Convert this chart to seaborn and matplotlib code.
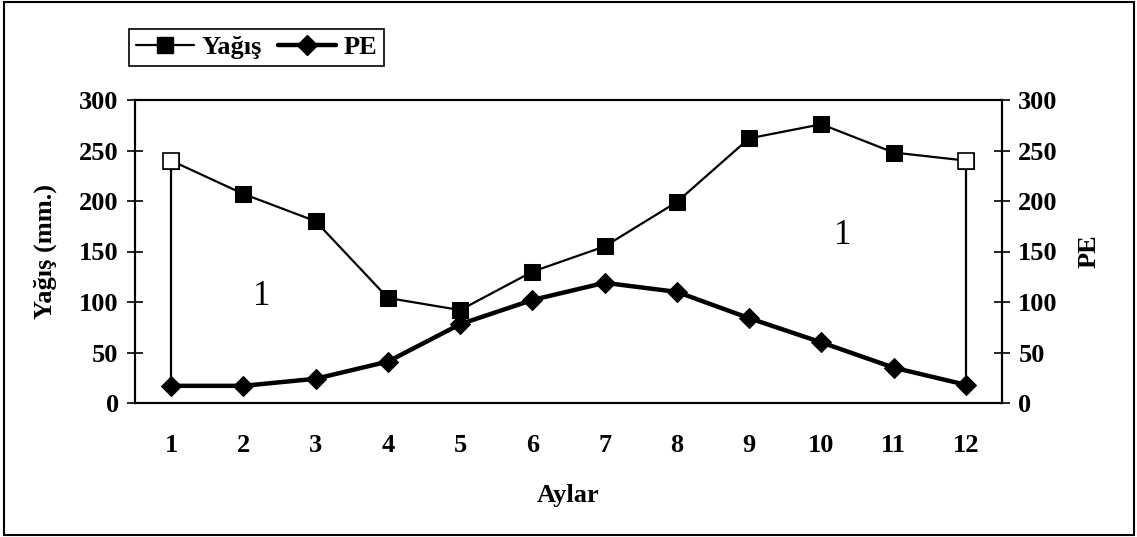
import matplotlib
matplotlib.use("Agg")
import matplotlib.pyplot as plt
from matplotlib.lines import Line2D
from matplotlib.patches import Rectangle
import numpy as np
import pandas as pd
import seaborn as sns

# Monthly precipitation (Yağış) and potential evapotranspiration (PE), mm
months = [1, 2, 3, 4, 5, 6, 7, 8, 9, 10, 11, 12]
yagis = [240, 207, 180, 104, 92, 130, 155, 199, 262, 276, 248, 240]
pe = [17, 17, 24, 41, 78, 102, 119, 110, 84, 60, 35, 18]
y_ticks = [0, 50, 100, 150, 200, 250, 300]
zone_labels = ["1", "1"]
zone_pos = [(2.26, 105), (10.3, 166)]

df = pd.DataFrame({"Aylar": months, "Yağış": yagis, "PE": pe})

sns.set_theme(style="white")
plt.rcParams["font.family"] = ["Liberation Serif", "DejaVu Serif"]
plt.rcParams["text.color"] = "black"
plt.rcParams["axes.labelcolor"] = "black"
plt.rcParams["xtick.color"] = "black"
plt.rcParams["ytick.color"] = "black"

W, H = 1137, 537
fig = plt.figure(figsize=(W / 100, H / 100), dpi=100)
ax = fig.add_axes([135 / W, 1 - 403 / H, (1002 - 135) / W, (403 - 100) / H])
ax2 = ax.twinx()

# Precipitation: thin line with square markers, hollow at both ends
sns.lineplot(data=df, x="Aylar", y="Yağış", ax=ax, color="black", lw=1.6,
             marker="s", markersize=11, markerfacecolor="black",
             markeredgecolor="black", zorder=4)
ax.plot([months[0], months[-1]], [yagis[0], yagis[-1]], ls="none", marker="s",
        markersize=11, markerfacecolor="white", markeredgecolor="black",
        markeredgewidth=1.2, zorder=5)

# Potential evapotranspiration: thick line with diamond markers
sns.lineplot(data=df, x="Aylar", y="PE", ax=ax2, color="black", lw=3.2,
             marker="D", markersize=10, markerfacecolor="black",
             markeredgecolor="black", zorder=4)

# Vertical closures of the surplus zones at the first and last month
for i in (0, -1):
    ax.plot([months[i], months[i]], [yagis[i], pe[i]], color="black", lw=1.6, zorder=3)

for txt, (x, y) in zip(zone_labels, zone_pos):
    ax.text(x, y, txt, fontsize=25, ha="center", va="center", color="black")

for a in (ax, ax2):
    a.set_xlim(0.5, 12.5)
    a.set_ylim(0, 300)
    a.set_yticks(y_ticks)
    a.set_ylabel("")
    for s in a.spines.values():
        s.set_visible(True)
        s.set_color("black")
        s.set_linewidth(1.5)

tick_font = dict(fontsize=19, fontweight="bold", color="black")
ax.set_yticks(y_ticks)
ax.set_yticklabels([str(v) for v in y_ticks], **tick_font)
ax2.set_yticklabels([str(v) for v in y_ticks], **tick_font)
ax.tick_params(axis="y", direction="inout", length=11.5, width=1.2, pad=6, colors="black")
ax2.tick_params(axis="y", direction="inout", length=11.5, width=1.2, pad=6, colors="black")

ax.set_xticks(months)
ax.set_xticklabels([str(m) for m in months], **tick_font)
ax.set_xticks(np.arange(0.5, 13, 1.0), minor=True)
ax.tick_params(axis="x", which="major", length=0, pad=22, colors="black")
ax.tick_params(axis="x", which="minor", direction="inout", length=11.5, width=1.2, colors="black")

ax.set_xlabel("Aylar", fontsize=19, fontweight="bold", labelpad=20, color="black")
ax.set_ylabel("Yağış (mm.)", fontsize=19, fontweight="bold", labelpad=16, color="black")
ax2.set_ylabel("PE", fontsize=19, fontweight="bold", labelpad=14, color="black")
ax.grid(False)
ax2.grid(False)

handles = [
    Line2D([], [], color="black", lw=1.6, marker="s", markersize=11,
           markerfacecolor="black", markeredgecolor="black"),
    Line2D([], [], color="black", lw=3.2, marker="D", markersize=10,
           markerfacecolor="black", markeredgecolor="black"),
]
leg = fig.legend(handles, ["Yağış", "PE"], loc="upper left",
                 bbox_to_anchor=(129 / W, 1 - 29 / H), ncol=2,
                 prop={"family": "Liberation Serif", "weight": "bold", "size": 19},
                 frameon=True, fancybox=False, framealpha=1, edgecolor="black",
                 handlelength=2.2, handletextpad=0.3, columnspacing=0.6,
                 borderpad=0.25, borderaxespad=0)
leg.get_frame().set_linewidth(1.2)
for t in leg.get_texts():
    t.set_color("black")

# Chart area border
fig.patches.append(Rectangle((4 / W, 2 / H), 1130 / W, 533 / H, transform=fig.transFigure,
                             fill=False, edgecolor="black", lw=1.5))

fig.savefig("out.png", dpi=100, facecolor="white")
